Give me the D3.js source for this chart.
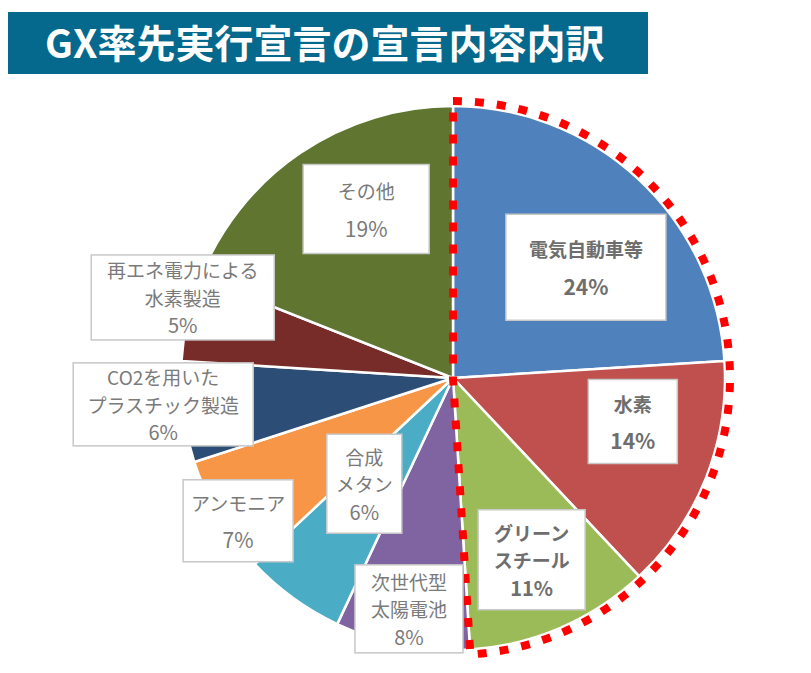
<!DOCTYPE html>
<html lang="ja">
<head>
<meta charset="utf-8">
<script src="https://cdn.jsdelivr.net/npm/d3@7"></script>
<style>
  body { margin: 0; background: #fff; }
  svg { display: block; }
</style>
</head>
<body>
<div id="chart"></div>
<script>
const width = 811;
const height = 673;

// data
const categories = ["電気自動車等", "水素", "グリーンスチール", "次世代型太陽電池", "合成メタン",
    "アンモニア", "CO2を用いたプラスチック製造", "再エネ電力による水素製造", "その他"];
const shares = [24, 14, 11, 8, 6, 7, 6, 5, 19];
// how each label is broken into lines in its box
const labelLines = [
    ["電気自動車等"], ["水素"], ["グリーン", "スチール"], ["次世代型", "太陽電池"], ["合成", "メタン"],
    ["アンモニア"], ["CO2を用いた", "プラスチック製造"], ["再エネ電力による", "水素製造"], ["その他"]
];
const boldLabels = ["電気自動車等", "水素", "グリーンスチール"];
const highlighted = ["電気自動車等", "水素", "グリーンスチール"];
const colors = ["#4f81bd", "#c0504d", "#9bbb59", "#8064a2", "#4bacc6",
    "#f79646", "#2c4d75", "#772c2a", "#5f7530"];

// label box layout: distance from centre, angle nudge (deg), box width, box height
const labelLayout = [
    [173, 7, 160, 106], [185, -8, 89, 84], [198, 0, 107, 100], [235, 0, 108, 88], [138, 4, 75, 99],
    [258, -3, 110, 82], [291, 2, 180, 83], [282, 4, 183, 85], [190, 7, 126, 89]
];

const cx = 453, cy = 378, radius = 272;

const svg = d3.select("div#chart").append("svg")
    .attr("width", width)
    .attr("height", height)
    .attr("viewBox", `0 0 ${width} ${height}`)
    .style("font-family", "'Noto Sans CJK JP', 'Noto Sans', sans-serif");

// title banner
svg.append("rect")
    .attr("x", 8).attr("y", 12)
    .attr("width", 640).attr("height", 62)
    .attr("fill", "#05698d");
svg.append("text")
    .attr("x", 45).attr("y", 58)
    .attr("fill", "#fff")
    .attr("font-size", 39)
    .attr("font-weight", "bold")
    .text("GX率先実行宣言の宣言内容内訳");

const pie = d3.pie().sort(null).value(d => d)
    .startAngle(0).endAngle(2 * Math.PI);
const arcs = pie(shares);
const arc = d3.arc().innerRadius(0).outerRadius(radius);

const g = svg.append("g").attr("transform", `translate(${cx},${cy})`);

g.selectAll("path.slice")
    .data(arcs)
    .join("path")
    .attr("class", "slice")
    .attr("d", arc)
    .attr("fill", (d, i) => colors[i])
    .attr("stroke", "#fff")
    .attr("stroke-width", 2.5)
    .attr("stroke-linejoin", "round");

// red dotted outline around the highlighted slices
const hl = arcs.filter((d, i) => highlighted.includes(categories[i]));
const outline = d3.arc().innerRadius(0).outerRadius(radius + 5);
g.append("path")
    .attr("d", outline({
        startAngle: d3.min(hl, d => d.startAngle),
        endAngle: d3.max(hl, d => d.endAngle)
    }))
    .attr("fill", "none")
    .attr("stroke", "#ff0000")
    .attr("stroke-width", 8)
    .attr("stroke-dasharray", "9 13");

// label boxes
const labels = g.selectAll("g.label")
    .data(arcs)
    .join("g")
    .attr("class", "label")
    .attr("transform", (d, i) => {
        const [r, nudge] = labelLayout[i];
        const a = (d.startAngle + d.endAngle) / 2 + nudge * Math.PI / 180;
        return `translate(${r * Math.sin(a)},${-r * Math.cos(a)})`;
    });

labels.append("rect")
    .attr("x", (d, i) => -labelLayout[i][2] / 2)
    .attr("y", (d, i) => -labelLayout[i][3] / 2)
    .attr("width", (d, i) => labelLayout[i][2])
    .attr("height", (d, i) => labelLayout[i][3])
    .attr("fill", "#fff")
    .attr("stroke", "#c8c8c8")
    .attr("stroke-width", 1.5);

labels.each(function (d, i) {
    const lines = labelLines[i].concat([`${shares[i]}%`]);
    const two = lines.length === 2;
    const step = two ? 37 : 27.5;
    const bold = boldLabels.includes(categories[i]);
    d3.select(this).selectAll("text")
        .data(lines)
        .join("text")
        .attr("text-anchor", "middle")
        .attr("dominant-baseline", "central")
        .attr("y", (t, k) => (k - (lines.length - 1) / 2) * step)
        .attr("font-size", (t, k) => k === lines.length - 1 ? (two ? 21 : 20) : 19)
        .attr("font-weight", bold ? "bold" : "normal")
        .attr("fill", bold ? "#6e6e6e" : "#7a7a7a")
        .text(t => t);
});
</script>
</body>
</html>
